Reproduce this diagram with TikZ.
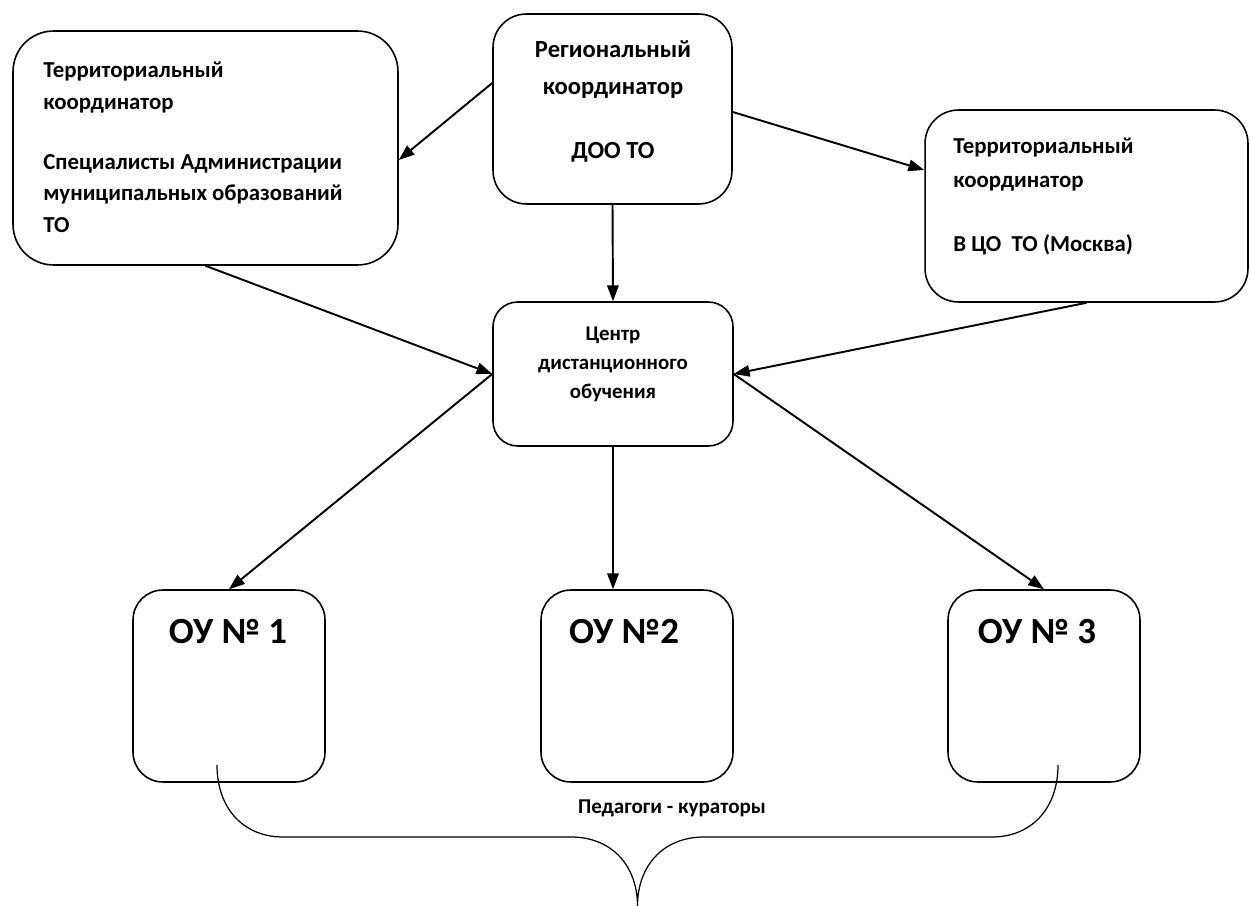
\documentclass[tikz,border=0pt]{standalone}
\usepackage{fontspec}
\setmainfont{Carlito}
\usepackage{tikz}
\usetikzlibrary{arrows.meta}

\tikzset{
  box/.style={draw, line width=0.9pt, rounded corners=17pt, inner sep=0pt},
  txt/.style={inner sep=0pt},
  conn/.style={->, line width=1.1pt},
}

\begin{document}
\begin{tikzpicture}[x=0.02cm, y=-0.02cm, >={Triangle[length=9pt,width=6.5pt]}]
  \useasboundingbox (0,0) rectangle (1251,906);

  % boxes
  \node[box, rounded corners=23pt, minimum width=7.7cm, minimum height=4.68cm] (terrL) at (205.5,148) {};
  \node[box, rounded corners=19pt, minimum width=4.78cm, minimum height=3.8cm] (regk) at (612.5,109) {};
  \node[box, rounded corners=19pt, minimum width=6.46cm, minimum height=3.84cm] (terrR) at (1086.5,206) {};
  \node[box, rounded corners=14pt, minimum width=4.8cm, minimum height=2.88cm] (cdo) at (613,374) {};
  \node[box, minimum width=3.84cm, minimum height=3.84cm] (ou1) at (229,686) {};
  \node[box, minimum width=3.84cm, minimum height=3.84cm] (ou2) at (637,686) {};
  \node[box, minimum width=3.84cm, minimum height=3.84cm] (ou3) at (1044,686) {};

  % texts (anchored at the baseline of the last line)
  \node[txt, anchor=base west, align=left, font=\bfseries\fontsize{13}{17.8}\selectfont] (terrL-t) at (43,232)
    {Территориальный\\ координатор\\[16.5pt] Специалисты Администрации\\ муниципальных образований\\ ТО};
  \node[txt, anchor=base, align=center, font=\bfseries\fontsize{14}{21}\selectfont] (regk-t) at (613,158)
    {Региональный\\ координатор\\[15.4pt] ДОО ТО};
  \node[txt, anchor=base west, align=left, font=\bfseries\fontsize{13}{19.3}\selectfont] (terrR-t) at (953,251)
    {Территориальный\\ координатор\\[17pt] В ЦО\ \ ТО (Москва)};
  \node[txt, anchor=base, align=center, font=\bfseries\fontsize{11.9}{16.5}\selectfont] (cdo-t) at (613,398)
    {Центр\\ дистанционного\\ обучения};
  \node[txt, anchor=base, font=\bfseries\fontsize{21}{25}\selectfont] (ou1-t) at (228,643) {ОУ № 1};
  \node[txt, anchor=base, font=\bfseries\fontsize{21}{25}\selectfont] (ou2-t) at (624,643) {ОУ №2};
  \node[txt, anchor=base, font=\bfseries\fontsize{21}{25}\selectfont] (ou3-t) at (1037,643) {ОУ № 3};
  \node[txt, anchor=base, font=\bfseries\fontsize{12}{15}\selectfont] (ped-t) at (672,813) {Педагоги - кураторы};

  % arrows
  \draw[conn] (regk.west |- 0,83) -- (terrL.east |- 0,160);
  \draw[conn] (regk.east |- 0,112) -- (terrR.west |- 0,170);
  \draw[conn] (regk.south) -- (cdo.north);
  \draw[conn] (terrL.south) -- (cdo.west);
  \draw[conn] (terrR.south) -- (cdo.east);
  \draw[conn] (cdo.west) -- (ou1.north);
  \draw[conn] (cdo.south) -- (cdo.south |- ou2.north);
  \draw[conn] (cdo.east) -- (ou3.north);

  % brace under the schools
  \coordinate (brL) at (217,765);
  \coordinate (brTip) at (637.5,906);
  \coordinate (brR) at (1058,765);
  \draw[line width=0.7pt] (brL) .. controls (217,810) and (245,837) .. (283,837) -- (571,837)
    .. controls (612,837) and (637.5,866) .. (brTip)
    .. controls (637.5,866) and (663,837) .. (704,837) -- (992,837)
    .. controls (1030,837) and (1058,810) .. (brR);
\end{tikzpicture}
\end{document}
